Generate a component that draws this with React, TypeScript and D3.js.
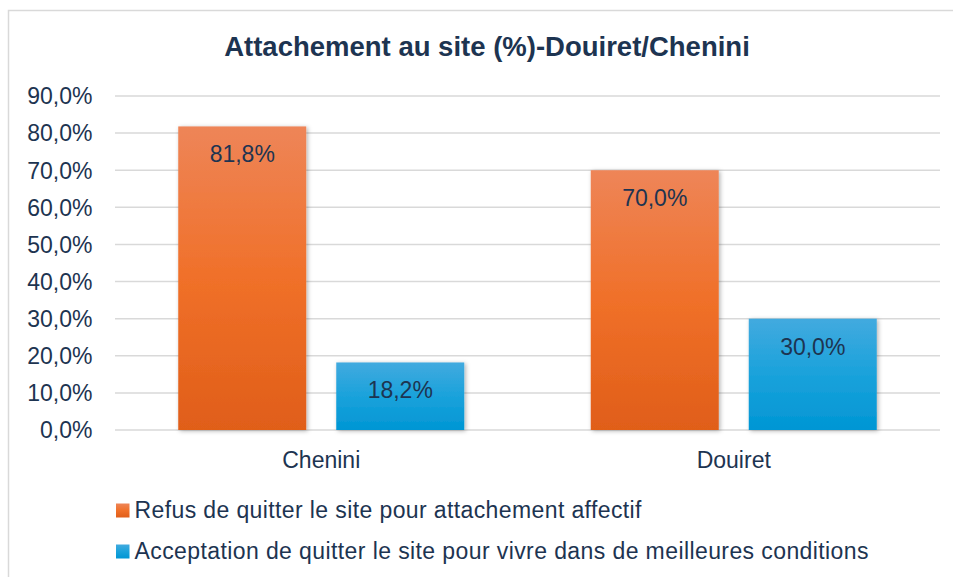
import React from "react";
import * as d3 from "d3";

const categories = ["Chenini", "Douiret"];
const seriesNames = [
  "Refus de quitter le site pour attachement affectif",
  "Acceptation de quitter le site pour vivre dans de meilleures conditions",
];
const refusValues = [81.8, 70.0];
const acceptValues = [18.2, 30.0];
const yTicks = [0, 10, 20, 30, 40, 50, 60, 70, 80, 90];
const title = "Attachement au site (%)-Douiret/Chenini";

const W = 953;
const H = 577;
const plot = { left: 115, right: 940, top: 96, bottom: 430 };
const textColor = "#1d3451";
const font = "Liberation Sans, Arial, sans-serif";
const legendWidths = [507, 734];

const fmt = (v: number) => v.toFixed(1).replace(".", ",") + "%";

function T({ x, y, children, anchor = "start", size = 23, weight = "normal", len }: any) {
  return (
    <text
      x={x}
      y={y}
      textAnchor={anchor}
      fontFamily={font}
      fontSize={size}
      fontWeight={weight}
      fill={textColor}
      {...(len ? { textLength: len, lengthAdjust: "spacing" } : {})}
    >
      {children}
    </text>
  );
}

export default function App() {
  const y = d3.scaleLinear().domain([0, 90]).range([plot.bottom, plot.top]);
  const x0 = d3.scaleBand().domain(categories).range([plot.left, plot.right]);
  const groupW = 286;
  const x1 = d3.scaleBand().domain(["refus", "accept"]).range([0, groupW]).paddingInner(0.19);
  const series = [
    { key: "refus", values: refusValues, grad: "url(#gOrange)" },
    { key: "accept", values: acceptValues, grad: "url(#gBlue)" },
  ];

  return (
    <svg
      width={W}
      height={H}
      style={{ position: "absolute", left: 0, top: 0, background: "#fff" }}
    >
      <defs>
        <linearGradient id="gOrange" x1="0" y1="0" x2="0" y2="1">
          <stop offset="0" stopColor="#ee8558" />
          <stop offset="0.5" stopColor="#f07029" />
          <stop offset="1" stopColor="#e05e19" />
        </linearGradient>
        <linearGradient id="gBlue" x1="0" y1="0" x2="0" y2="1">
          <stop offset="0" stopColor="#42aadf" />
          <stop offset="0.5" stopColor="#1aa2db" />
          <stop offset="1" stopColor="#0096d4" />
        </linearGradient>
        <filter id="sh" x="-20%" y="-20%" width="140%" height="140%">
          <feDropShadow dx="1.5" dy="1" stdDeviation="2" floodColor="#000" floodOpacity="0.3" />
        </filter>
      </defs>
      <rect x={8.5} y={10.5} width={1000} height={700} fill="#fff" stroke="#d9d9d9" strokeWidth={1.5} />
      <T x={487} y={56} anchor="middle" size={27.5} weight="bold">
        {title}
      </T>
      {yTicks.map((t) => (
        <g key={t}>
          <line x1={plot.left} x2={plot.right} y1={y(t)} y2={y(t)} stroke="#d9d9d9" strokeWidth={1.5} />
          <T x={92.5} y={y(t) + 8.3} anchor="end">
            {fmt(t)}
          </T>
        </g>
      ))}
      {categories.map((c, i) => {
        const gx = x0(c)! + x0.bandwidth() / 2 - groupW / 2;
        return (
          <g key={c}>
            {series.map((s) => {
              const bx = gx + x1(s.key)!;
              const bw = x1.bandwidth();
              const v = s.values[i];
              return (
                <g key={s.key}>
                  <rect x={bx} y={y(v)} width={bw} height={y(0) - y(v)} fill={s.grad} filter="url(#sh)" />
                  <T x={bx + bw / 2} y={y(v) + 36} anchor="middle">
                    {fmt(v)}
                  </T>
                </g>
              );
            })}
            <T x={x0(c)! + x0.bandwidth() / 2} y={467.5} anchor="middle">
              {c}
            </T>
          </g>
        );
      })}
      {seriesNames.map((n, i) => (
        <g key={n}>
          <rect x={116} y={503.5 + i * 41} width={13.5} height={14} fill={i === 0 ? "url(#gOrange)" : "url(#gBlue)"} />
          <T x={134.5} y={518.3 + i * 41} len={legendWidths[i]}>
            {n}
          </T>
        </g>
      ))}
    </svg>
  );
}
